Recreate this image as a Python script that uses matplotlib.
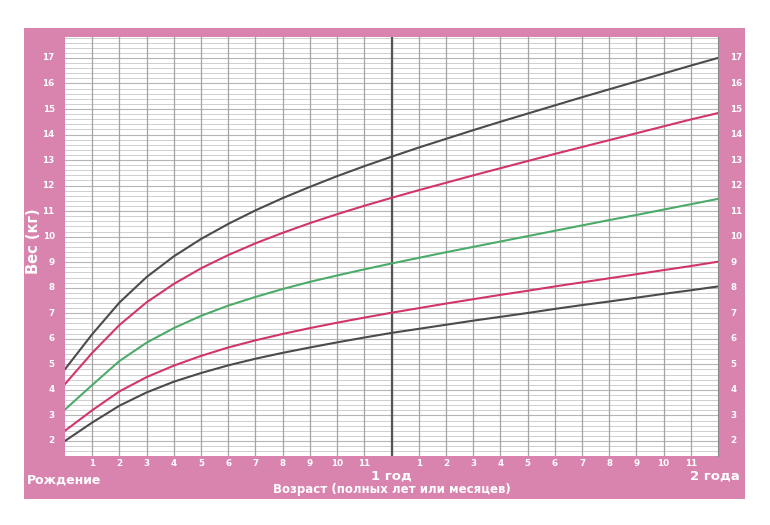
import matplotlib
matplotlib.use("Agg")
import matplotlib.pyplot as plt
from matplotlib.patches import Rectangle
import numpy as np

# age in months, birth .. 2 years
months = list(range(0, 25))

# weight (kg) curves
sd_minus3 = [2.00, 2.72, 3.38, 3.90, 4.32, 4.66, 4.96, 5.22, 5.45, 5.66, 5.86, 6.05, 6.23,
             6.39, 6.55, 6.71, 6.86, 7.01, 7.17, 7.32, 7.46, 7.61, 7.76, 7.90, 8.05]
sd_minus2 = [2.40, 3.20, 3.94, 4.50, 4.95, 5.33, 5.66, 5.94, 6.19, 6.42, 6.63, 6.83, 7.02,
             7.20, 7.38, 7.55, 7.72, 7.88, 8.05, 8.21, 8.37, 8.53, 8.69, 8.85, 9.02]
median = [3.23, 4.19, 5.13, 5.85, 6.42, 6.90, 7.30, 7.64, 7.95, 8.23, 8.48, 8.72, 8.95,
          9.17, 9.39, 9.60, 9.81, 10.02, 10.23, 10.44, 10.65, 10.85, 11.06, 11.27, 11.48]
sd_plus2 = [4.23, 5.45, 6.54, 7.43, 8.15, 8.76, 9.28, 9.74, 10.15, 10.53, 10.88, 11.21, 11.52,
            11.82, 12.11, 12.40, 12.68, 12.96, 13.24, 13.51, 13.78, 14.05, 14.32, 14.59, 14.84]
sd_plus3 = [4.81, 6.18, 7.42, 8.42, 9.23, 9.91, 10.50, 11.03, 11.51, 11.95, 12.37, 12.76, 13.13,
            13.49, 13.83, 14.17, 14.50, 14.82, 15.14, 15.46, 15.77, 16.08, 16.39, 16.70, 17.00]

y_ticks = list(range(2, 18))
month_labels = [str(m) for m in range(1, 12)]

pink = "#d984af"
dark = "#4d4a4c"
red = "#d2356c"
green = "#4dab6a"

fig = plt.figure(figsize=(7.7, 5.25), dpi=100)
fig.patch.set_facecolor("white")

# pink frame behind the grid
fig.patches.append(Rectangle((24 / 770, 26 / 525), 721 / 770, 471 / 525,
                             transform=fig.transFigure, facecolor=pink,
                             edgecolor="none", zorder=-10))

ax = fig.add_axes([65 / 770, 69 / 525, 653 / 770, 419 / 525])
ax.set_zorder(1)
ax.set_facecolor("white")
ax.set_xlim(0, 24)
ax.set_ylim(1.41, 17.82)

# grid: fine horizontal lines every 0.2 kg, months vertical
for y in np.arange(1.6, 17.81, 0.2):
    ax.axhline(y, color="#cfcfcf", lw=0.7, zorder=1)
for y in y_ticks:
    ax.axhline(y, color="#b5b5b5", lw=0.8, zorder=1)
for m in months[1:24]:
    ax.axvline(m, color="#a3a3a3", lw=0.9, zorder=1)
ax.axvline(12, color="#555555", lw=1.6, zorder=2)

for vals, col in [(sd_plus3, dark), (sd_plus2, red), (median, green),
                  (sd_minus2, red), (sd_minus3, dark)]:
    ax.plot(months, vals, color=col, lw=1.5, zorder=3)

for s in ["top", "left", "bottom"]:
    ax.spines[s].set_visible(False)
ax.spines["right"].set_color("#8a8a8a")
ax.tick_params(length=0)
ax.set_xticks([])
ax.set_yticks([])

lab = dict(color="white", fontweight="bold", fontsize=6.3, clip_on=False)
for y in y_ticks:
    ax.text(-0.38, y, str(y), ha="right", va="center", **lab)
    ax.text(24.45, y, str(y), ha="left", va="center", **lab)

for i, t in enumerate(month_labels):
    ax.text(i + 1, 1.3, t, ha="center", va="top", **lab)
    ax.text(i + 13, 1.3, t, ha="center", va="top", **lab)

big = dict(color="white", fontweight="bold")
ax.text(12, 0.88, "1 год", ha="center", va="top", fontsize=9.5, **big)
ax.text(23.9, 0.88, "2 года", ha="center", va="top", fontsize=9.5, **big)
ax.text(-1.4, 0.72, "Рождение", ha="left", va="top", fontsize=9, **big)
fig.text(392 / 770, 1 - 490 / 525, "Возраст (полных лет или месяцев)",
         ha="center", va="center", fontsize=8.5, **big)
fig.text(33 / 770, 1 - 241 / 525, "Вес (кг)", rotation=90,
         ha="center", va="center", fontsize=10.5, **big)

fig.savefig("out.png", dpi=100)
